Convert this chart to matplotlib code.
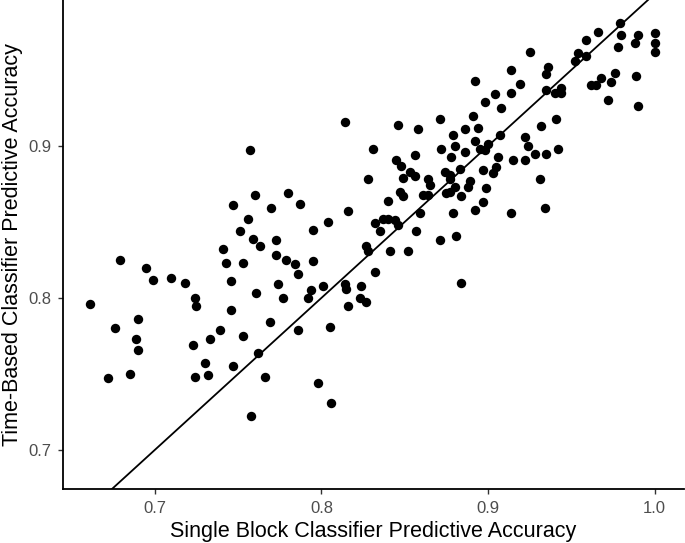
import matplotlib
matplotlib.use("Agg")
import matplotlib.pyplot as plt

# single block accuracy (x) vs time-based accuracy (y)
single_block = [
    0.679, 0.695, 0.699, 0.710, 0.718, 0.741, 0.743, 0.746, 0.724, 0.725,
    0.661, 0.746, 0.690, 0.676, 0.739, 0.689, 0.733, 0.690, 0.723, 0.730,
    0.747, 0.685, 0.672, 0.724, 0.732, 0.757, 0.831, 0.828, 0.760, 0.780,
    0.747, 0.770, 0.787, 0.840, 0.816, 0.756, 0.804, 0.832, 0.837, 0.840,
    0.751, 0.795, 0.835, 0.759, 0.773, 0.763, 0.827, 0.828, 0.841, 0.773,
    0.779, 0.784, 0.786, 0.795, 0.753, 0.832, 0.774, 0.761, 0.777, 0.792,
    0.794, 0.801, 0.814, 0.815, 0.824, 0.823, 0.816, 0.827, 0.769, 0.753,
    0.786, 0.805, 0.762, 0.766, 0.798, 0.806, 0.758, 0.814, 0.904, 0.898,
    0.846, 0.858, 0.871, 0.891, 0.894, 0.879, 0.886, 0.880, 0.872, 0.886,
    0.892, 0.895, 0.900, 0.898, 0.878, 0.856, 0.845, 0.848, 0.853, 0.856,
    0.849, 0.874, 0.877, 0.877, 0.883, 0.897, 0.905, 0.903, 0.864, 0.865,
    0.889, 0.888, 0.880, 0.877, 0.875, 0.884, 0.861, 0.864, 0.847, 0.849,
    0.899, 0.897, 0.892, 0.879, 0.859, 0.844, 0.846, 0.857, 0.881, 0.871,
    0.852, 0.884, 0.914, 0.936, 0.935, 0.952, 0.919, 0.914, 0.935, 0.940,
    0.944, 0.944, 0.908, 0.941, 0.932, 0.907, 0.922, 0.924, 0.928, 0.935,
    0.942, 0.906, 0.915, 0.922, 0.931, 0.914, 0.934, 0.979, 0.966, 0.959,
    0.954, 0.959, 0.980, 0.978, 0.990, 0.988, 1.000, 1.000, 1.000, 0.976,
    0.974, 0.968, 0.962, 0.965, 0.989, 0.972, 0.990, 0.925, 0.892,
]
time_based = [
    0.825, 0.820, 0.812, 0.813, 0.810, 0.832, 0.823, 0.811, 0.800, 0.795,
    0.796, 0.792, 0.786, 0.780, 0.779, 0.773, 0.773, 0.766, 0.769, 0.757,
    0.755, 0.750, 0.747, 0.748, 0.749, 0.897, 0.898, 0.878, 0.868, 0.869,
    0.861, 0.859, 0.862, 0.864, 0.857, 0.852, 0.850, 0.849, 0.852, 0.852,
    0.844, 0.845, 0.844, 0.839, 0.838, 0.834, 0.834, 0.831, 0.831, 0.828,
    0.825, 0.822, 0.816, 0.824, 0.823, 0.817, 0.809, 0.803, 0.800, 0.800,
    0.805, 0.808, 0.809, 0.806, 0.808, 0.800, 0.795, 0.797, 0.784, 0.775,
    0.779, 0.781, 0.764, 0.748, 0.744, 0.731, 0.722, 0.916, 0.934, 0.929,
    0.914, 0.911, 0.918, 0.920, 0.912, 0.907, 0.911, 0.900, 0.898, 0.896,
    0.903, 0.898, 0.901, 0.897, 0.893, 0.894, 0.891, 0.887, 0.883, 0.880,
    0.879, 0.883, 0.881, 0.878, 0.885, 0.884, 0.886, 0.882, 0.878, 0.874,
    0.877, 0.873, 0.873, 0.870, 0.869, 0.867, 0.868, 0.868, 0.870, 0.867,
    0.872, 0.863, 0.858, 0.856, 0.856, 0.851, 0.848, 0.844, 0.841, 0.838,
    0.831, 0.810, 0.950, 0.952, 0.947, 0.956, 0.941, 0.935, 0.937, 0.935,
    0.938, 0.935, 0.925, 0.918, 0.913, 0.907, 0.906, 0.900, 0.895, 0.895,
    0.898, 0.893, 0.891, 0.891, 0.878, 0.856, 0.859, 0.981, 0.975, 0.970,
    0.961, 0.959, 0.973, 0.965, 0.973, 0.968, 0.974, 0.968, 0.962, 0.948,
    0.942, 0.945, 0.940, 0.940, 0.946, 0.930, 0.926, 0.962, 0.943,
]

x_ticks = [0.7, 0.8, 0.9, 1.0]
y_ticks = [0.7, 0.8, 0.9]

plt.rcParams['font.family'] = ['Liberation Sans', 'DejaVu Sans']

fig = plt.figure(figsize=(6.85, 5.43), dpi=100)
ax = fig.add_axes([0.092, 0.0995, 0.906, 0.9005])

ax.scatter(single_block, time_based, s=46, color='black', linewidths=0, zorder=3)
ax.axline((0.7, 0.7), slope=1, color='black', linewidth=1.3, zorder=2)

ax.set_xlim(0.6449, 1.0174)
ax.set_ylim(0.6743, 0.996)
ax.set_xticks(x_ticks)
ax.set_xticklabels(['0.7', '0.8', '0.9', '1.0'])
ax.set_yticks(y_ticks)
ax.set_yticklabels(['0.7', '0.8', '0.9'])

ax.spines['top'].set_visible(False)
ax.spines['right'].set_visible(False)
ax.spines['left'].set_linewidth(1.3)
ax.spines['bottom'].set_linewidth(1.3)
ax.tick_params(direction='out', length=3.5, width=1, color='#333333',
               labelsize=12, labelcolor='#4D4D4D', pad=5)

ax.set_xlabel('Single Block Classifier Predictive Accuracy', fontsize=15.5, labelpad=4)
ax.set_ylabel('Time-Based Classifier Predictive Accuracy', fontsize=15.5, labelpad=4)

fig.savefig('out.png', dpi=100)
